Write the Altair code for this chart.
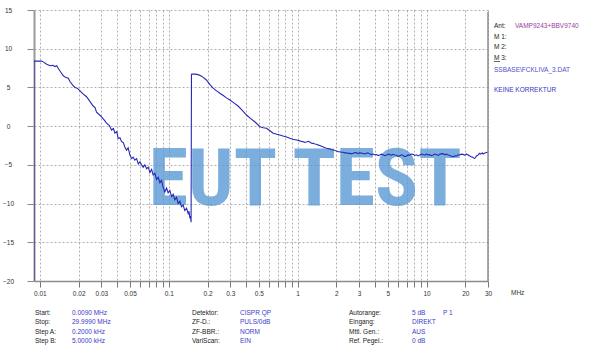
import json
import altair as alt
import pandas as pd

# ---------------- data ----------------
freq_a = [0.009, 0.009, 0.0103, 0.0106, 0.0113, 0.0120, 0.0126, 0.0131, 0.0135, 0.0139,
          0.0145, 0.0152, 0.0158, 0.0166, 0.0172, 0.0180, 0.0187, 0.0195, 0.0204, 0.0215,
          0.0230, 0.0242, 0.0259, 0.0268, 0.0275, 0.0288, 0.0301, 0.0315, 0.0329, 0.0345,
          0.0360, 0.0372, 0.0382, 0.0395, 0.0405, 0.0418, 0.0430, 0.0443, 0.0456, 0.0470,
          0.0484, 0.0499, 0.0515, 0.0529, 0.0545, 0.0563, 0.0580, 0.0597, 0.0615, 0.0633,
          0.0652, 0.0673, 0.0693, 0.0714, 0.0736, 0.0757, 0.0780, 0.0804, 0.0828, 0.0853,
          0.0878, 0.0905, 0.0932, 0.0961, 0.0989, 0.1020, 0.1051, 0.1082, 0.1115, 0.1149,
          0.1183, 0.1219, 0.1255, 0.1293, 0.1332, 0.1374, 0.1414, 0.1436, 0.1458, 0.1475,
          0.1490]
level_a = [-20, 8.4, 8.4, 8.3, 8.0, 7.8, 7.85, 7.7, 7.8, 7.45,
           7.0, 6.5, 6.3, 6.2, 5.7, 5.3, 5.0, 4.9, 4.6, 4.2,
           3.8, 3.3, 2.6, 2.4, 1.8, 1.5, 1.2, 0.8, 0.4, 0.1,
           -0.5, -0.3, -0.9, -0.7, -1.6, -1.5, -2.0, -2.1, -2.7, -3.1,
           -2.8, -3.7, -4.2, -4.0, -4.4, -4.2, -4.9, -4.6, -5.0, -5.3,
           -5.0, -5.5, -5.3, -6.0, -5.6, -6.3, -6.1, -6.9, -6.6, -7.3,
           -7.0, -7.9, -8.5, -8.0, -8.6, -8.3, -9.1, -8.8, -9.5, -9.2,
           -10.0, -9.7, -10.4, -10.2, -10.9, -10.6, -11.3, -11.0, -11.9, -11.6,
           -12.4]

freq_b = [0.150, 0.153, 0.160, 0.169, 0.177, 0.185, 0.196, 0.208, 0.221, 0.235,
          0.249, 0.265, 0.280, 0.298, 0.320, 0.345, 0.372, 0.401, 0.430, 0.470,
          0.509, 0.540, 0.574, 0.610, 0.646, 0.690, 0.728, 0.770, 0.820, 0.870,
          0.920, 0.980, 1.04, 1.07, 1.10, 1.13, 1.17, 1.21, 1.24, 1.28,
          1.32, 1.36, 1.40, 1.45, 1.49, 1.53, 1.58, 1.63, 1.68, 1.73,
          1.78, 1.83, 1.89, 1.95, 2.00, 2.06, 2.12, 2.18, 2.25, 2.32,
          2.40, 2.47, 2.55, 2.62, 2.70, 2.78, 2.85, 2.95, 3.04, 3.12,
          3.20, 3.30, 3.42, 3.50, 3.60, 3.72, 3.85, 3.97, 4.10, 4.22,
          4.34, 4.47, 4.60, 4.75, 4.90, 5.05, 5.20, 5.35, 5.50, 5.67,
          5.85, 6.02, 6.20, 6.40, 6.60, 6.80, 7.00, 7.20, 7.40, 7.63,
          7.87, 8.10, 8.35, 8.60, 8.87, 9.13, 9.40, 9.70, 10.0, 10.3,
          10.6, 10.9, 11.25, 11.6, 11.9, 12.3, 12.7, 13.1, 13.5, 13.9,
          14.3, 14.7, 15.2, 15.6, 16.1, 16.6, 17.1, 17.6, 18.1, 18.6,
          19.2, 19.8, 20.4, 20.7, 21.0, 21.3, 21.7, 22.2, 22.7, 23.2,
          23.7, 24.0, 24.4, 24.8, 25.2, 25.5, 25.9, 26.3, 26.7, 27.1,
          27.5, 28.1, 28.7, 29.3, 29.999]
level_b = [6.7, 6.73, 6.72, 6.65, 6.5, 6.3, 5.96, 5.4, 4.9, 4.55,
           4.24, 3.95, 3.65, 3.38, 3.0, 2.6, 2.05, 1.44, 1.0, 0.5,
           -0.07, -0.2, -0.28, -0.6, -0.92, -1.05, -1.14, -1.27, -1.4, -1.57,
           -1.7, -1.79, -1.9, -1.98, -2.0, -2.1, -2.05, -1.95, -2.05, -2.2,
           -2.22, -2.3, -2.35, -2.45, -2.5, -2.6, -2.7, -2.8, -2.86, -2.9,
           -2.95, -3.05, -3.08, -3.15, -3.2, -3.3, -3.3, -3.38, -3.38, -3.45,
           -3.43, -3.52, -3.5, -3.58, -3.51, -3.4, -3.45, -3.55, -3.43, -3.5,
           -3.5, -3.6, -3.51, -3.45, -3.55, -3.68, -3.6, -3.7, -3.68, -3.8,
           -3.73, -3.62, -3.7, -3.82, -3.73, -3.6, -3.68, -3.75, -3.64, -3.72,
           -3.75, -3.9, -3.82, -3.7, -3.8, -3.95, -3.86, -3.72, -3.75, -3.6,
           -3.64, -3.78, -3.7, -3.85, -3.73, -3.6, -3.65, -3.75, -3.6, -3.72,
           -3.68, -3.82, -3.73, -3.6, -3.66, -3.78, -3.64, -3.55, -3.58, -3.7,
           -3.6, -3.72, -3.8, -3.9, -3.95, -3.82, -3.85, -3.7, -3.73, -3.62,
           -3.65, -3.75, -3.6, -3.68, -3.7, -3.8, -3.86, -3.95, -4.0, -4.1,
           -4.16, -4.05, -3.86, -3.8, -3.7, -3.6, -3.51, -3.6, -3.55, -3.45,
           -3.6, -3.5, -3.45, -3.38, -3.43]

grid_ticks = [0.01, 0.02, 0.03, 0.04, 0.05, 0.06, 0.07, 0.08, 0.09,
              0.1, 0.2, 0.3, 0.4, 0.5, 0.6, 0.7, 0.8, 0.9,
              1, 2, 3, 4, 5, 6, 7, 8, 9, 10, 20, 30]
x_labels = [0.01, 0.02, 0.03, 0.05, 0.1, 0.2, 0.3, 0.5, 1, 2, 3, 5, 10, 20, 30]
y_ticks = [-20, -15, -10, -5, 0, 5, 10, 15]

watermark_words = ["EUT", "TEST"]
unit_label = "MHz"
side_labels = ["Ant:", "M 1:", "M 2:", "M 3:"]
ant_value = "VAMP9243+BBV9740"
file_name = "SSBASE\\FCKLIVA_3.DAT"
note = "KEINE KORREKTUR"

info_labels_1 = ["Start:", "Stop:", "Step A:", "Step B:"]
info_values_1 = ["0.0090 MHz", "29.9990 MHz", "0.2000 kHz", "5.0000 kHz"]
info_labels_2 = ["Detektor:", "ZF-D.:", "ZF-BBR.:", "VariScan:"]
info_values_2 = ["CISPR QP", "PULS/0dB", "NORM", "EIN"]
info_labels_3 = ["Autorange:", "Eingang:", "Mttl. Gen.:", "Ref. Pegel.:"]
info_values_3 = ["5 dB", "DIREKT", "AUS", "0  dB"]
page_label = "P 1"

# ---------------- build ----------------
freqs = freq_a + freq_b
levels = level_a + level_b
trace = pd.DataFrame({"idx": list(range(len(freqs))), "f": freqs, "db": levels})

FONT = "Liberation Sans"
WM_FONT = "'Roboto Condensed', 'DejaVu Sans Condensed', sans-serif"
W, H = 454, 271
PL, PT = 34, 10

xscale = alt.Scale(type="log", domain=[0.009, 30])
yscale = alt.Scale(domain=[-20, 15])

label_expr = ("indexof(" + json.dumps(x_labels) +
              ", datum.value) >= 0 ? toString(datum.value) : ''")

line = alt.Chart(trace).mark_line(color="#2828b4", strokeWidth=1.1, clip=True).encode(
    x=alt.X("f:Q", scale=xscale, title=None,
            axis=alt.Axis(values=grid_ticks, labelExpr=label_expr, labelOverlap=False,
                          labelFlush=False, grid=True, gridDash=[2, 2], gridColor="#9a9a9a",
                          gridWidth=0.8, domainColor="#8c8c8c", domainWidth=1.5,
                          tickColor="#777777", tickSize=6, labelFontSize=6.5, labelFont=FONT,
                          labelColor="#333333", labelPadding=3)),
    y=alt.Y("db:Q", scale=yscale, title=None,
            axis=alt.Axis(values=y_ticks, grid=True, gridDash=[2, 2], gridColor="#9a9a9a",
                          gridWidth=0.8, domainColor="#9a9a9a", domainWidth=2,
                          tickColor="#888888", tickSize=7, labelAlign="center",
                          labelPadding=19, labelFontSize=6.5, labelFont=FONT,
                          labelColor="#333333")),
    order="idx:Q",
)

def one_text(text, x, y, color, size=6.5, **kw):
    df = pd.DataFrame({"t": [text]})
    return alt.Chart(df).mark_text(align="left", baseline="middle", font=FONT,
                                   fontSize=size, color=color, **kw).encode(
        x=alt.value(x), y=alt.value(y), text="t:N")

def rows(lines, x, y_first, color, dy=9.3):
    return [one_text(t, x, y_first + i * dy, color) for i, t in enumerate(lines)]

def wm_word(word, xc):
    return alt.Chart(pd.DataFrame({"t": [word]})).mark_text(
        align="center", baseline="alphabetic", font=WM_FONT, fontWeight="bold",
        fontSize=80, color="#5b9bd5", opacity=0.8).encode(
        x=alt.value(xc - PL), y=alt.value(205 - PT), text="t:N")

right_rule = alt.Chart(pd.DataFrame({"a": [0]})).mark_rule(color="#8c8c8c", strokeWidth=1.5).encode(
    x=alt.value(W), y=alt.value(2), y2=alt.value(H))

underline = alt.Chart(pd.DataFrame({"a": [0]})).mark_rule(color="#222222", strokeWidth=0.7).encode(
    x=alt.value(494 - PL), x2=alt.value(500 - PL), y=alt.value(61.5 - PT))

BLUE = "#3b3bc8"
row_y = 313 - PT
layers = [
    wm_word(watermark_words[0], 213),
    wm_word(watermark_words[1], 377),
    line,
    right_rule,
    underline,
    one_text(unit_label, 511 - PL, 293 - PT, "#333333"),
    *rows(side_labels, 494 - PL, 26 - PT, "#222222", dy=10.7),
    one_text(ant_value, 515 - PL, 26 - PT, "#9a3a9a"),
    one_text(file_name, 494 - PL, 70 - PT, "#5050cc"),
    one_text(note, 494 - PL, 90 - PT, "#3535c0"),
    *rows(info_labels_1, 35 - PL, row_y, "#222222"),
    *rows(info_values_1, 72 - PL, row_y, BLUE),
    *rows(info_labels_2, 192 - PL, row_y, "#222222"),
    *rows(info_values_2, 240 - PL, row_y, BLUE),
    *rows(info_labels_3, 349 - PL, row_y, "#222222"),
    *rows(info_values_3, 412 - PL, row_y, BLUE),
    one_text(page_label, 443 - PL, row_y, BLUE),
]

chart = alt.layer(*layers).properties(
    width=W, height=H,
    autosize=alt.AutoSizeParams(type="none"),
    padding={"left": PL, "top": PT, "right": 600 - PL - W, "bottom": 353 - PT - H},
    background="white",
).configure_view(stroke=None)

chart.save("out.html", embed_options={"renderer": "svg", "actions": False})
